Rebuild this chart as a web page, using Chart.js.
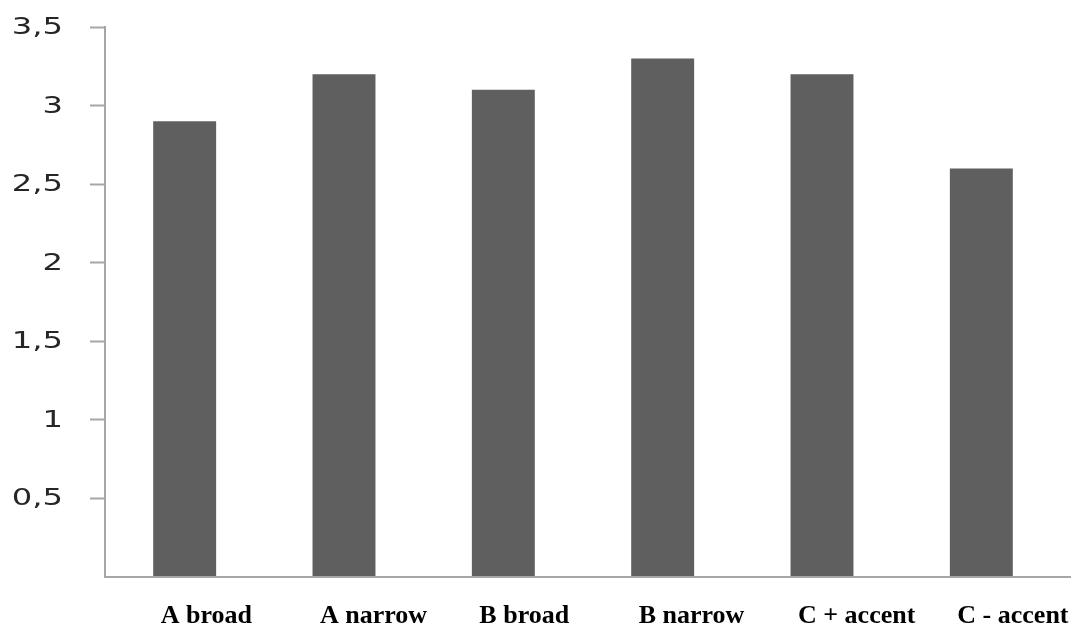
<!DOCTYPE html>
<html>
<head>
<meta charset="utf-8">
<script src="https://cdn.jsdelivr.net/npm/chart.js@4"></script>
<style>
  html, body { margin: 0; padding: 0; background: #ffffff; }
  #wrap { width: 1078px; height: 628px; }
</style>
</head>
<body>
<div id="wrap"><canvas id="c" width="1078" height="628"></canvas></div>
<script>
// Mean scores per condition
const categories = ['A broad', 'A narrow', 'B broad', 'B narrow', 'C + accent', 'C - accent'];
const scores = [2.9, 3.2, 3.1, 3.3, 3.2, 2.6];

// Value axis ticks (decimal comma), zero left unlabelled
const yTickValues = [0, 0.5, 1, 1.5, 2, 2.5, 3, 3.5];
const yTickLabels = ['', '0,5', '1', '1,5', '2', '2,5', '3', '3,5'];

const AXIS_GREY = '#a6a6a6';

// Value labels drawn in a wide face, stretched horizontally
const wideYLabels = {
  id: 'wideYLabels',
  afterDraw(chart) {
    const y = chart.scales.y;
    const ctx = chart.ctx;
    const right = chart.chartArea.left - 15 - 27;
    ctx.save();
    ctx.font = '23px "DejaVu Sans"';
    ctx.fillStyle = '#262626';
    ctx.textAlign = 'right';
    ctx.textBaseline = 'middle';
    y.ticks.forEach((t, i) => {
      const label = yTickLabels[i];
      if (!label) return;
      const py = y.getPixelForValue(t.value);
      ctx.save();
      ctx.translate(right, py + 1);
      ctx.scale(1.4, 1);
      ctx.fillText(label, 0, 0);
      ctx.restore();
    });
    ctx.restore();
  }
};

// Category axis line, running a little past the last category
const baseLine = {
  id: 'baseLine',
  afterDatasetsDraw(chart) {
    const { ctx, chartArea } = chart;
    ctx.save();
    ctx.strokeStyle = AXIS_GREY;
    ctx.lineWidth = 2;
    ctx.beginPath();
    ctx.moveTo(chartArea.left - 1, chartArea.bottom);
    ctx.lineTo(chartArea.right + 10, chartArea.bottom);
    ctx.stroke();
    ctx.restore();
  }
};

new Chart(document.getElementById('c'), {
  type: 'bar',
  data: {
    labels: categories,
    datasets: [{
      data: scores,
      backgroundColor: '#5f5f5f',
      borderWidth: 0,
      barPercentage: 0.395,
      categoryPercentage: 1
    }]
  },
  options: {
    responsive: false,
    animation: false,
    devicePixelRatio: 1,
    layout: { padding: { left: 0, right: 17, top: 27, bottom: 0 } },
    plugins: { legend: { display: false }, tooltip: { enabled: false } },
    scales: {
      x: {
        grid: { display: false, drawTicks: false },
        border: { display: false },
        afterFit(scale) {
          scale.height = 51;
          scale.paddingLeft = 0;
          scale.paddingRight = 0;
        },
        ticks: {
          align: 'start',
          labelOffset: -24,
          padding: 24,
          color: '#000000',
          maxRotation: 0,
          autoSkip: false,
          font: { family: '"Liberation Serif", "Times New Roman", serif', size: 26, weight: 'bold' }
        }
      },
      y: {
        min: 0,
        max: 3.5,
        afterBuildTicks(scale) {
          scale.ticks = yTickValues.map(v => ({ value: v }));
        },
        afterFit(scale) { scale.width = 105; },
        grid: {
          drawOnChartArea: false,
          drawTicks: true,
          tickLength: 15,
          tickWidth: 2,
          color: (c) => (c.tick && c.tick.value === 0 ? 'rgba(0,0,0,0)' : AXIS_GREY)
        },
        border: { display: true, color: AXIS_GREY, width: 2 },
        ticks: { display: false }
      }
    }
  },
  plugins: [wideYLabels, baseLine]
});
</script>
</body>
</html>
